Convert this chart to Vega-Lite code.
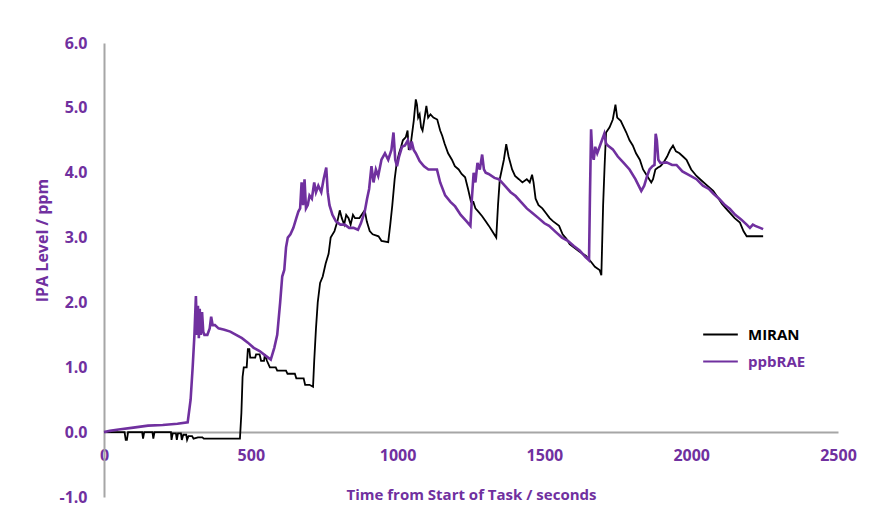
{
 "$schema": "https://vega.github.io/schema/vega-lite/v6.json",
 "width": 734,
 "height": 454,
 "autosize": {"type": "none"},
 "padding": {"left": 104, "top": 43, "right": 46, "bottom": 34},
 "background": "white",
 "config": {"view": {"stroke": null}, "font": "Open Sans"},
 "datasets": {
  "miran": [
   {"t":0,"v":0},{"t":70,"v":0},{"t":74,"v":-0.12},{"t":78,"v":-0.12},{"t":82,"v":0},{"t":130,"v":0},{"t":133,"v":-0.1},{"t":137,"v":0},{"t":165,"v":0},{"t":168,"v":-0.1},{"t":172,"v":0},{"t":228,"v":0},{"t":230,"v":-0.12},{"t":234,"v":-0.02},{"t":245,"v":-0.02},{"t":248,"v":-0.12},{"t":252,"v":-0.02},{"t":262,"v":-0.02},{"t":265,"v":-0.12},{"t":270,"v":-0.04},{"t":280,"v":-0.04},{"t":283,"v":-0.12},{"t":288,"v":-0.06},{"t":300,"v":-0.06},{"t":305,"v":-0.1},{"t":320,"v":-0.08},{"t":335,"v":-0.08},{"t":340,"v":-0.1},{"t":400,"v":-0.1},{"t":463,"v":-0.1},{"t":468,"v":0.3},{"t":472,"v":0.85},{"t":476,"v":1.0},{"t":486,"v":1.0},{"t":490,"v":1.28},{"t":495,"v":1.28},{"t":498,"v":1.15},{"t":515,"v":1.15},{"t":518,"v":1.2},{"t":530,"v":1.2},{"t":535,"v":1.1},{"t":545,"v":1.1},{"t":548,"v":1.2},{"t":555,"v":1.1},{"t":565,"v":1.0},{"t":585,"v":1.0},{"t":590,"v":0.95},{"t":620,"v":0.95},{"t":625,"v":0.9},{"t":650,"v":0.9},{"t":655,"v":0.83},{"t":680,"v":0.83},{"t":685,"v":0.73},{"t":700,"v":0.73},{"t":712,"v":0.7},{"t":716,"v":1.1},{"t":722,"v":1.6},{"t":728,"v":2.0},{"t":736,"v":2.3},{"t":745,"v":2.4},{"t":755,"v":2.6},{"t":765,"v":2.75},{"t":772,"v":3.0},{"t":785,"v":3.1},{"t":795,"v":3.25},{"t":803,"v":3.42},{"t":810,"v":3.3},{"t":818,"v":3.2},{"t":825,"v":3.35},{"t":833,"v":3.3},{"t":840,"v":3.2},{"t":848,"v":3.35},{"t":855,"v":3.3},{"t":870,"v":3.3},{"t":888,"v":3.42},{"t":895,"v":3.25},{"t":905,"v":3.1},{"t":915,"v":3.05},{"t":935,"v":3.02},{"t":945,"v":2.95},{"t":968,"v":2.93},{"t":975,"v":3.2},{"t":982,"v":3.5},{"t":990,"v":3.9},{"t":997,"v":4.15},{"t":1005,"v":4.3},{"t":1012,"v":4.4},{"t":1018,"v":4.5},{"t":1028,"v":4.55},{"t":1034,"v":4.65},{"t":1038,"v":4.35},{"t":1045,"v":4.45},{"t":1055,"v":4.8},{"t":1062,"v":5.13},{"t":1066,"v":5.05},{"t":1070,"v":4.85},{"t":1075,"v":4.9},{"t":1080,"v":4.7},{"t":1085,"v":4.65},{"t":1092,"v":4.85},{"t":1098,"v":5.03},{"t":1104,"v":4.85},{"t":1112,"v":4.9},{"t":1122,"v":4.85},{"t":1135,"v":4.82},{"t":1145,"v":4.65},{"t":1152,"v":4.57},{"t":1160,"v":4.45},{"t":1172,"v":4.3},{"t":1185,"v":4.2},{"t":1195,"v":4.1},{"t":1208,"v":4.05},{"t":1218,"v":3.98},{"t":1230,"v":3.93},{"t":1240,"v":3.75},{"t":1250,"v":3.55},{"t":1258,"v":3.55},{"t":1265,"v":3.45},{"t":1275,"v":3.4},{"t":1288,"v":3.33},{"t":1300,"v":3.25},{"t":1311,"v":3.18},{"t":1322,"v":3.1},{"t":1336,"v":3.0},{"t":1342,"v":3.5},{"t":1348,"v":3.9},{"t":1355,"v":4.05},{"t":1362,"v":4.2},{"t":1370,"v":4.44},{"t":1378,"v":4.25},{"t":1390,"v":4.05},{"t":1400,"v":3.95},{"t":1413,"v":3.9},{"t":1425,"v":3.85},{"t":1440,"v":3.9},{"t":1450,"v":3.85},{"t":1458,"v":3.97},{"t":1463,"v":3.85},{"t":1470,"v":3.6},{"t":1480,"v":3.5},{"t":1493,"v":3.45},{"t":1505,"v":3.38},{"t":1518,"v":3.3},{"t":1530,"v":3.25},{"t":1550,"v":3.18},{"t":1562,"v":3.05},{"t":1575,"v":2.98},{"t":1586,"v":2.9},{"t":1600,"v":2.85},{"t":1620,"v":2.78},{"t":1641,"v":2.72},{"t":1660,"v":2.62},{"t":1672,"v":2.55},{"t":1688,"v":2.5},{"t":1694,"v":2.42},{"t":1700,"v":3.5},{"t":1705,"v":4.1},{"t":1710,"v":4.62},{"t":1722,"v":4.7},{"t":1733,"v":4.82},{"t":1742,"v":5.05},{"t":1748,"v":4.85},{"t":1760,"v":4.8},{"t":1779,"v":4.62},{"t":1790,"v":4.5},{"t":1801,"v":4.42},{"t":1812,"v":4.3},{"t":1825,"v":4.2},{"t":1836,"v":4.05},{"t":1850,"v":3.95},{"t":1864,"v":3.85},{"t":1870,"v":3.9},{"t":1878,"v":4.05},{"t":1887,"v":4.08},{"t":1895,"v":4.1},{"t":1905,"v":4.15},{"t":1918,"v":4.25},{"t":1928,"v":4.35},{"t":1938,"v":4.42},{"t":1948,"v":4.33},{"t":1960,"v":4.3},{"t":1972,"v":4.25},{"t":1984,"v":4.2},{"t":2000,"v":4.05},{"t":2018,"v":3.95},{"t":2035,"v":3.88},{"t":2050,"v":3.82},{"t":2075,"v":3.72},{"t":2090,"v":3.62},{"t":2105,"v":3.52},{"t":2118,"v":3.45},{"t":2132,"v":3.38},{"t":2148,"v":3.3},{"t":2166,"v":3.23},{"t":2178,"v":3.1},{"t":2189,"v":3.02},{"t":2245,"v":3.02}
  ],
  "ppb": [
   {"t":0,"v":0},{"t":20,"v":0.02},{"t":50,"v":0.04},{"t":100,"v":0.07},{"t":150,"v":0.1},{"t":200,"v":0.11},{"t":250,"v":0.13},{"t":285,"v":0.15},{"t":295,"v":0.5},{"t":302,"v":1.0},{"t":308,"v":1.5},{"t":313,"v":2.1},{"t":317,"v":1.5},{"t":320,"v":1.95},{"t":323,"v":1.45},{"t":326,"v":1.9},{"t":330,"v":1.5},{"t":334,"v":1.85},{"t":338,"v":1.55},{"t":342,"v":1.5},{"t":352,"v":1.5},{"t":360,"v":1.6},{"t":365,"v":1.78},{"t":370,"v":1.65},{"t":378,"v":1.65},{"t":390,"v":1.6},{"t":410,"v":1.58},{"t":430,"v":1.55},{"t":450,"v":1.5},{"t":470,"v":1.45},{"t":490,"v":1.38},{"t":510,"v":1.3},{"t":530,"v":1.25},{"t":550,"v":1.18},{"t":568,"v":1.12},{"t":580,"v":1.3},{"t":590,"v":1.5},{"t":600,"v":2.0},{"t":607,"v":2.4},{"t":614,"v":2.5},{"t":620,"v":2.85},{"t":626,"v":3.0},{"t":635,"v":3.05},{"t":645,"v":3.15},{"t":655,"v":3.3},{"t":662,"v":3.4},{"t":668,"v":3.45},{"t":673,"v":3.85},{"t":678,"v":3.5},{"t":683,"v":3.9},{"t":688,"v":3.45},{"t":694,"v":3.5},{"t":700,"v":3.65},{"t":708,"v":3.6},{"t":716,"v":3.85},{"t":722,"v":3.7},{"t":730,"v":3.8},{"t":740,"v":3.7},{"t":748,"v":3.9},{"t":757,"v":4.08},{"t":762,"v":3.7},{"t":768,"v":3.5},{"t":778,"v":3.35},{"t":790,"v":3.25},{"t":805,"v":3.2},{"t":820,"v":3.2},{"t":835,"v":3.15},{"t":850,"v":3.15},{"t":865,"v":3.12},{"t":875,"v":3.22},{"t":888,"v":3.4},{"t":896,"v":3.6},{"t":903,"v":3.75},{"t":911,"v":4.1},{"t":918,"v":3.85},{"t":926,"v":4.05},{"t":934,"v":3.95},{"t":945,"v":4.2},{"t":957,"v":4.3},{"t":968,"v":4.2},{"t":979,"v":4.35},{"t":986,"v":4.62},{"t":992,"v":4.2},{"t":998,"v":4.1},{"t":1005,"v":4.25},{"t":1015,"v":4.4},{"t":1025,"v":4.42},{"t":1035,"v":4.5},{"t":1043,"v":4.35},{"t":1048,"v":4.48},{"t":1055,"v":4.35},{"t":1062,"v":4.3},{"t":1075,"v":4.18},{"t":1090,"v":4.1},{"t":1105,"v":4.05},{"t":1134,"v":4.05},{"t":1145,"v":3.85},{"t":1162,"v":3.65},{"t":1180,"v":3.55},{"t":1196,"v":3.48},{"t":1215,"v":3.35},{"t":1235,"v":3.25},{"t":1248,"v":3.18},{"t":1253,"v":3.6},{"t":1259,"v":4.0},{"t":1265,"v":3.85},{"t":1272,"v":4.15},{"t":1280,"v":4.05},{"t":1288,"v":4.28},{"t":1294,"v":4.05},{"t":1300,"v":4.0},{"t":1310,"v":3.98},{"t":1330,"v":3.92},{"t":1345,"v":3.9},{"t":1365,"v":3.8},{"t":1385,"v":3.7},{"t":1402,"v":3.64},{"t":1420,"v":3.55},{"t":1440,"v":3.45},{"t":1459,"v":3.38},{"t":1480,"v":3.3},{"t":1500,"v":3.22},{"t":1516,"v":3.18},{"t":1540,"v":3.08},{"t":1560,"v":3.0},{"t":1580,"v":2.95},{"t":1600,"v":2.87},{"t":1620,"v":2.8},{"t":1640,"v":2.7},{"t":1652,"v":2.65},{"t":1655,"v":3.6},{"t":1659,"v":4.67},{"t":1663,"v":4.3},{"t":1668,"v":4.2},{"t":1673,"v":4.4},{"t":1680,"v":4.3},{"t":1688,"v":4.4},{"t":1696,"v":4.5},{"t":1704,"v":4.6},{"t":1710,"v":4.45},{"t":1716,"v":4.42},{"t":1733,"v":4.36},{"t":1750,"v":4.25},{"t":1770,"v":4.15},{"t":1790,"v":4.05},{"t":1810,"v":3.9},{"t":1830,"v":3.72},{"t":1840,"v":3.8},{"t":1850,"v":3.95},{"t":1858,"v":4.05},{"t":1868,"v":4.1},{"t":1875,"v":4.12},{"t":1879,"v":4.6},{"t":1883,"v":4.5},{"t":1888,"v":4.2},{"t":1895,"v":4.15},{"t":1916,"v":4.16},{"t":1935,"v":4.12},{"t":1950,"v":4.12},{"t":1970,"v":4.02},{"t":1990,"v":3.97},{"t":2018,"v":3.9},{"t":2040,"v":3.8},{"t":2060,"v":3.75},{"t":2075,"v":3.68},{"t":2095,"v":3.6},{"t":2115,"v":3.5},{"t":2132,"v":3.44},{"t":2150,"v":3.35},{"t":2170,"v":3.28},{"t":2189,"v":3.2},{"t":2200,"v":3.15},{"t":2210,"v":3.2},{"t":2218,"v":3.18},{"t":2235,"v":3.15},{"t":2245,"v":3.13}
  ]
 },
 "layer": [
  {
   "data": {"name": "miran"},
   "mark": {"type": "line", "strokeWidth": 1.8, "clip": false},
   "encoding": {
    "x": {"field": "t", "type": "quantitative"},
    "y": {"field": "v", "type": "quantitative"},
    "color": {"datum": "MIRAN"}
   }
  },
  {
   "data": {"name": "ppb"},
   "mark": {"type": "line", "strokeWidth": 2.6, "clip": false},
   "encoding": {
    "x": {"field": "t", "type": "quantitative"},
    "y": {"field": "v", "type": "quantitative"},
    "color": {"datum": "ppbRAE"}
   }
  }
 ],
 "encoding": {
  "x": {
   "field": "t", "type": "quantitative",
   "scale": {"domain": [0, 2500], "nice": false, "zero": false},
   "axis": {
    "title": "Time from Start of Task / seconds",
    "offset": -65,
    "values": [0, 500, 1000, 1500, 2000, 2500],
    "format": "d",
    "grid": false, "ticks": false,
    "domainColor": "#a6a6a6", "domainWidth": 2,
    "labelColor": "#70309f", "labelFontWeight": "bold", "labelFontSize": 16,
    "labelPadding": 15, "labelFlush": false, "labelOverlap": false,
    "titleColor": "#70309f", "titleFontSize": 15, "titleFontWeight": "bold",
    "titlePadding": 24
   }
  },
  "y": {
   "field": "v", "type": "quantitative",
   "scale": {"domain": [-1, 6], "nice": false, "zero": false},
   "axis": {
    "title": "IPA Level / ppm",
    "values": [-1, 0, 1, 2, 3, 4, 5, 6],
    "labelExpr": "replace(format(datum.value, '.1f'), '\u2212', '-')",
    "grid": false, "ticks": false,
    "domainColor": "#a6a6a6", "domainWidth": 2,
    "labelColor": "#70309f", "labelFontWeight": "bold", "labelFontSize": 16,
    "labelPadding": 17, "labelOverlap": false, "labelFlush": false,
    "titleColor": "#70309f", "titleFontSize": 16, "titleFontWeight": "bold",
    "titlePadding": 8, "titleY": 197
   }
  },
  "color": {
   "type": "nominal",
   "scale": {"domain": ["MIRAN", "ppbRAE"], "range": ["#000000", "#70309f"]},
   "legend": {
    "title": null, "orient": "none", "legendX": 598, "legendY": 273,
    "symbolType": "stroke", "symbolSize": 1200, "symbolStrokeWidth": 2,
    "labelFontSize": 15, "labelFontWeight": "bold", "labelOffset": 9,
    "rowPadding": -9,
    "encode": {"labels": {"update": {"fill": {"signal": "datum.label === 'MIRAN' ? '#000000' : '#70309f'"}}}}
   }
  }
 }
}
